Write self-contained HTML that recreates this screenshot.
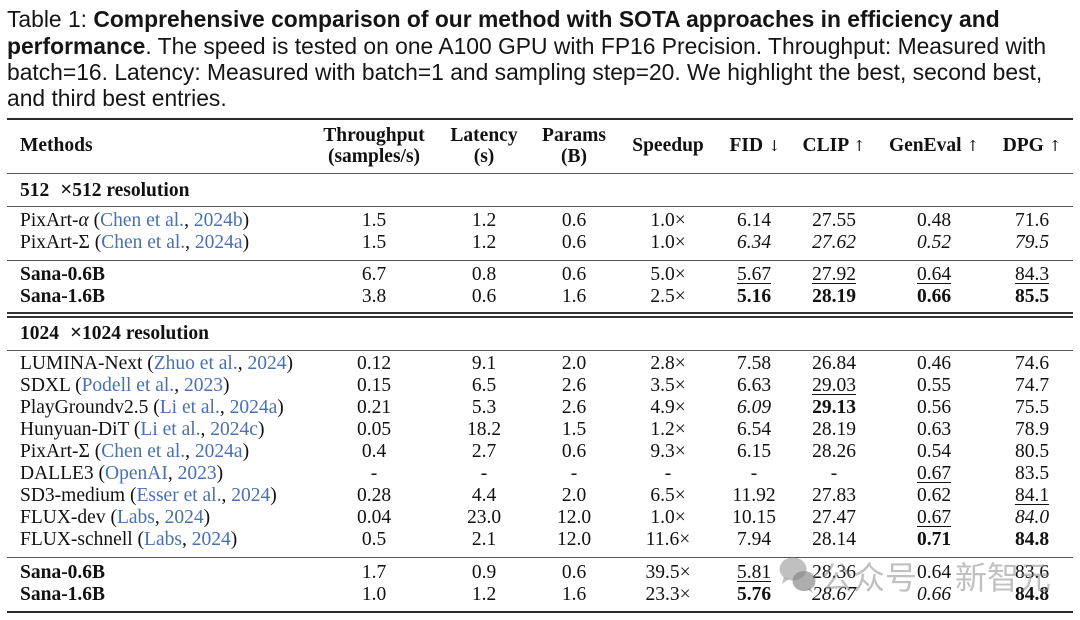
<!DOCTYPE html>
<html><head><meta charset="utf-8">
<style>
html,body{margin:0;padding:0;background:#fff;}
body{width:1080px;height:620px;position:relative;overflow:hidden;}
.cap{position:absolute;left:7px;font-family:"Liberation Sans",Arial,sans-serif;font-size:22.85px;color:#151515;white-space:nowrap;line-height:26px;height:26px;}
.cap b{font-weight:bold;}
.rule{position:absolute;left:7px;width:1066px;background:#3a3a3a;}
.row{position:absolute;left:0;width:1080px;height:22px;line-height:22px;font-family:"Liberation Serif","Times New Roman",serif;font-size:19.5px;color:#111;white-space:nowrap;}
.row span{position:absolute;top:0;width:120px;text-align:center;}
.row .m{left:20px;width:auto;text-align:left;}
.row .m span{position:static;width:auto;}
.c1{left:314px}.c2{left:424px}.c3{left:514px}.c4{left:608px}
.c5{left:694px}.c6{left:774px}.c7{left:874px}.c8{left:972px}
.cite{color:#4a70b0;}
.b{font-weight:bold;}
.i{font-style:italic;}
.u{text-decoration:underline;text-decoration-thickness:1px;text-underline-offset:3px;}
.hd{position:absolute;font-family:"Liberation Serif","Times New Roman",serif;font-size:19.5px;font-weight:bold;color:#111;text-align:center;width:160px;line-height:21px;white-space:nowrap;}
.ar{font-weight:normal;font-family:"DejaVu Serif","Liberation Serif",serif;font-size:15px;}
.x{margin-left:11px;margin-right:0;font-size:21px;}
.wm{position:absolute;font-family:"Noto Sans CJK SC","WenQuanYi Zen Hei",sans-serif;font-size:32px;color:rgba(140,140,140,0.55);line-height:40px;white-space:nowrap;}
</style></head><body>

<div class="cap" style="top:6px;">Table 1: <b>Comprehensive comparison of our method with SOTA approaches in efficiency and</b></div>
<div class="cap" style="top:33px;"><b>performance</b>. The speed is tested on one A100 GPU with FP16 Precision. Throughput: Measured with</div>
<div class="cap" style="top:59px;">batch=16. Latency: Measured with batch=1 and sampling step=20. We highlight the best, second best,</div>
<div class="cap" style="top:85px;">and third best entries.</div>

<!-- rules -->
<div class="rule" style="top:118px;height:2px;background:#2a2a2a;"></div>
<div class="rule" style="top:173px;height:1px;background:#555;"></div>
<div class="rule" style="top:206px;height:1px;background:#555;"></div>
<div class="rule" style="top:260px;height:1px;background:#555;"></div>
<div class="rule" style="top:312px;height:1.5px;background:#333;"></div>
<div class="rule" style="top:316px;height:1.5px;background:#333;"></div>
<div class="rule" style="top:350px;height:1px;background:#555;"></div>
<div class="rule" style="top:557px;height:1px;background:#555;"></div>
<div class="rule" style="top:611px;height:2px;background:#2a2a2a;"></div>

<!-- header -->
<div class="hd" style="left:20px;width:auto;text-align:left;top:135px;">Methods</div>
<div class="hd" style="left:294px;top:125px;">Throughput<br>(samples/s)</div>
<div class="hd" style="left:404px;top:125px;">Latency<br>(s)</div>
<div class="hd" style="left:494px;top:125px;">Params<br>(B)</div>
<div class="hd" style="left:588px;top:135px;">Speedup</div>
<div class="hd" style="left:675px;top:135px;">FID <span class="ar">↓</span></div>
<div class="hd" style="left:754px;top:135px;">CLIP <span class="ar">↑</span></div>
<div class="hd" style="left:854px;top:135px;">GenEval <span class="ar">↑</span></div>
<div class="hd" style="left:952px;top:135px;">DPG <span class="ar">↑</span></div>

<div class="row" style="top:178px;"><span class="m b">512<span class="x">×</span>512 resolution</span></div>

<div class="row" style="top:210px;"><span class="m">PixArt-<i>α</i> (<span class="cite">Chen et al.</span>, <span class="cite">2024b</span>)</span><span class="c1">1.5</span><span class="c2">1.2</span><span class="c3">0.6</span><span class="c4">1.0×</span><span class="c5">6.14</span><span class="c6">27.55</span><span class="c7">0.48</span><span class="c8">71.6</span></div>
<div class="row" style="top:232px;"><span class="m">PixArt-Σ (<span class="cite">Chen et al.</span>, <span class="cite">2024a</span>)</span><span class="c1">1.5</span><span class="c2">1.2</span><span class="c3">0.6</span><span class="c4">1.0×</span><span class="c5 i">6.34</span><span class="c6 i">27.62</span><span class="c7 i">0.52</span><span class="c8 i">79.5</span></div>

<div class="row" style="top:264px;"><span class="m b">Sana-0.6B</span><span class="c1">6.7</span><span class="c2">0.8</span><span class="c3">0.6</span><span class="c4">5.0×</span><span class="c5"><u class="u">5.67</u></span><span class="c6"><u class="u">27.92</u></span><span class="c7"><u class="u">0.64</u></span><span class="c8"><u class="u">84.3</u></span></div>
<div class="row" style="top:286px;"><span class="m b">Sana-1.6B</span><span class="c1">3.8</span><span class="c2">0.6</span><span class="c3">1.6</span><span class="c4">2.5×</span><span class="c5 b">5.16</span><span class="c6 b">28.19</span><span class="c7 b">0.66</span><span class="c8 b">85.5</span></div>

<div class="row" style="top:321px;"><span class="m b">1024<span class="x">×</span>1024 resolution</span></div>

<div class="row" style="top:353px;"><span class="m">LUMINA-Next (<span class="cite">Zhuo et al.</span>, <span class="cite">2024</span>)</span><span class="c1">0.12</span><span class="c2">9.1</span><span class="c3">2.0</span><span class="c4">2.8×</span><span class="c5">7.58</span><span class="c6">26.84</span><span class="c7">0.46</span><span class="c8">74.6</span></div>
<div class="row" style="top:375px;"><span class="m">SDXL (<span class="cite">Podell et al.</span>, <span class="cite">2023</span>)</span><span class="c1">0.15</span><span class="c2">6.5</span><span class="c3">2.6</span><span class="c4">3.5×</span><span class="c5">6.63</span><span class="c6"><u class="u">29.03</u></span><span class="c7">0.55</span><span class="c8">74.7</span></div>
<div class="row" style="top:397px;"><span class="m">PlayGroundv2.5 (<span class="cite">Li et al.</span>, <span class="cite">2024a</span>)</span><span class="c1">0.21</span><span class="c2">5.3</span><span class="c3">2.6</span><span class="c4">4.9×</span><span class="c5 i">6.09</span><span class="c6 b">29.13</span><span class="c7">0.56</span><span class="c8">75.5</span></div>
<div class="row" style="top:419px;"><span class="m">Hunyuan-DiT (<span class="cite">Li et al.</span>, <span class="cite">2024c</span>)</span><span class="c1">0.05</span><span class="c2">18.2</span><span class="c3">1.5</span><span class="c4">1.2×</span><span class="c5">6.54</span><span class="c6">28.19</span><span class="c7">0.63</span><span class="c8">78.9</span></div>
<div class="row" style="top:441px;"><span class="m">PixArt-Σ (<span class="cite">Chen et al.</span>, <span class="cite">2024a</span>)</span><span class="c1">0.4</span><span class="c2">2.7</span><span class="c3">0.6</span><span class="c4">9.3×</span><span class="c5">6.15</span><span class="c6">28.26</span><span class="c7">0.54</span><span class="c8">80.5</span></div>
<div class="row" style="top:463px;"><span class="m">DALLE3 (<span class="cite">OpenAI</span>, <span class="cite">2023</span>)</span><span class="c1">-</span><span class="c2">-</span><span class="c3">-</span><span class="c4">-</span><span class="c5">-</span><span class="c6">-</span><span class="c7"><u class="u">0.67</u></span><span class="c8">83.5</span></div>
<div class="row" style="top:485px;"><span class="m">SD3-medium (<span class="cite">Esser et al.</span>, <span class="cite">2024</span>)</span><span class="c1">0.28</span><span class="c2">4.4</span><span class="c3">2.0</span><span class="c4">6.5×</span><span class="c5">11.92</span><span class="c6">27.83</span><span class="c7">0.62</span><span class="c8"><u class="u">84.1</u></span></div>
<div class="row" style="top:507px;"><span class="m">FLUX-dev (<span class="cite">Labs</span>, <span class="cite">2024</span>)</span><span class="c1">0.04</span><span class="c2">23.0</span><span class="c3">12.0</span><span class="c4">1.0×</span><span class="c5">10.15</span><span class="c6">27.47</span><span class="c7"><u class="u">0.67</u></span><span class="c8 i">84.0</span></div>
<div class="row" style="top:529px;"><span class="m">FLUX-schnell (<span class="cite">Labs</span>, <span class="cite">2024</span>)</span><span class="c1">0.5</span><span class="c2">2.1</span><span class="c3">12.0</span><span class="c4">11.6×</span><span class="c5">7.94</span><span class="c6">28.14</span><span class="c7 b">0.71</span><span class="c8 b">84.8</span></div>

<div class="row" style="top:562px;"><span class="m b">Sana-0.6B</span><span class="c1">1.7</span><span class="c2">0.9</span><span class="c3">0.6</span><span class="c4">39.5×</span><span class="c5"><u class="u">5.81</u></span><span class="c6">28.36</span><span class="c7">0.64</span><span class="c8">83.6</span></div>
<div class="row" style="top:584px;"><span class="m b">Sana-1.6B</span><span class="c1">1.0</span><span class="c2">1.2</span><span class="c3">1.6</span><span class="c4">23.3×</span><span class="c5 b">5.76</span><span class="c6 i">28.67</span><span class="c7 i">0.66</span><span class="c8 b">84.8</span></div>

<!-- watermark -->
<svg style="position:absolute;left:778px;top:555px;" width="42" height="40" viewBox="0 0 42 40">
  <ellipse cx="15" cy="14" rx="13.5" ry="11.5" fill="rgba(150,150,150,0.6)"/>
  <path d="M6 22 L4 29 L11 24 Z" fill="rgba(150,150,150,0.6)"/>
  <ellipse cx="26" cy="26" rx="11.5" ry="10" fill="rgba(130,130,130,0.65)"/>
  <path d="M32 33 L35 38 L29 34 Z" fill="rgba(130,130,130,0.65)"/>
</svg>
<div class="wm" style="left:821px;top:556px;">公众号</div>
<div class="wm" style="left:955px;top:556px;">新智元</div>

</body></html>
